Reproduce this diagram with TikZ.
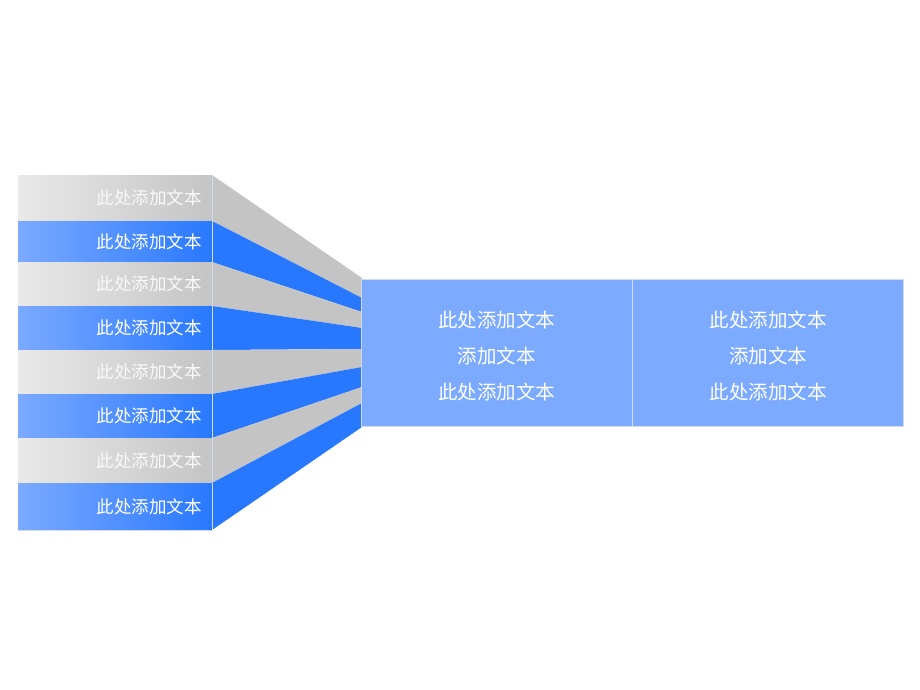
\documentclass[tikz,border=0pt]{standalone}
\usepackage{fontspec}
\usepackage{tikz}
\usetikzlibrary{positioning}
\newfontfamily\cjk{Noto Sans CJK SC}
\definecolor{c-blue}{HTML}{2878FF}
\definecolor{c-lightblue}{HTML}{7BAAFF}
\definecolor{c-gray}{HTML}{C4C4C4}
\definecolor{c-palegray}{HTML}{E9E9E9}
\definecolor{c-seam}{HTML}{D2DAE8}

\begin{document}
\begin{tikzpicture}[x=1pt, y=-1pt,
	bar-gray/.style={left color=c-palegray, right color=c-gray},
	bar-blue/.style={left color=c-lightblue, right color=c-blue},
	fan-gray/.style={fill=c-gray},
	fan-blue/.style={fill=c-blue},
	text-gray/.style={text=white!95!gray},
	text-blue/.style={text=white},
	barlabel/.style={anchor=east, inner sep=0pt, font=\cjk\fontsize{17.5}{20}\selectfont},
	cell/.style={rectangle, draw=c-seam, fill=c-lightblue, minimum width=271pt, minimum height=147pt, inner sep=0pt},
	celltext/.style={align=center, text=white, inner sep=0pt, font=\cjk\fontsize{19.5}{36}\selectfont}]
	\useasboundingbox (0,0) rectangle (920,690);
	% left stack and the fan behind it
	\foreach \i/\t/\b/\s/\rt/\rb in {1/175/221/gray/278/298, 2/221/262/blue/298/312,
		3/262/306/gray/312/328, 4/306/350/blue/328/349, 5/350/394/gray/349/367,
		6/394/438/blue/367/387, 7/438/483/gray/387/403, 8/483/530/blue/403/427}{
		\fill[fan-\s] (212,\t) -- (362,\rt) -- (362,\rb) -- (212,\b) -- cycle;
		\shade[bar-\s] (18,\t) rectangle (212,\b);
		\draw[c-seam, line width=0.5pt] (18,\b) -- (212,\b) -- (212,\t);
		\node[barlabel, text-\s] (lab\i) at (202,{(\t+\b)/2}) {此处添加文本};
	}
	% box on the right
	\node[cell, anchor=north west] (cellA) at (361,279) {};
	\node[cell, right=0pt of cellA] (cellB) {};
	\node[celltext, yshift=-3pt] (textA) at (cellA.center) {此处添加文本\\添加文本\\此处添加文本};
	\node[celltext, yshift=-3pt] (textB) at (cellB.center) {此处添加文本\\添加文本\\此处添加文本};
\end{tikzpicture}
\end{document}
